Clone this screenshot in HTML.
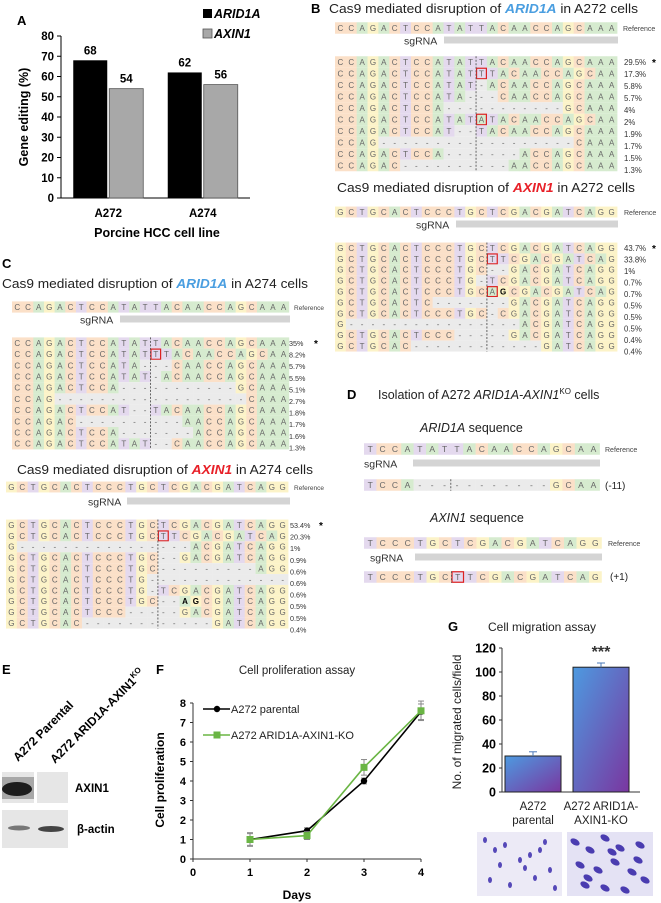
<!DOCTYPE html>
<html><head><meta charset="utf-8">
<style>
html,body{margin:0;padding:0;background:#fff;}
svg{display:block;font-family:"Liberation Sans",sans-serif;}
</style></head>
<body>
<svg id="fig" xmlns="http://www.w3.org/2000/svg" width="661" height="903" viewBox="0 0 661 903">
<defs>
<linearGradient id="barGrad" x1="0" y1="0" x2="1" y2="1">
<stop offset="0" stop-color="#4d9ae0"/><stop offset="1" stop-color="#7a36a0"/>
</linearGradient>
</defs>
<g id="panelA"></g>
<g id="panelSeq"></g>
<g id="panelE"></g>
<g id="panelF"></g>
<g id="panelG"></g>
</svg>
<script>
// ---- Panel A data ----
const aCategories = ["A272", "A274"];
const aArid1a = [68, 62];
const aAxin1 = [54, 56];
const aTicks = [0, 10, 20, 30, 40, 50, 60, 70, 80];
// ---- Panel F data ----
const fDays = [1, 2, 3, 4];
const fParental = [1.0, 1.45, 4.0, 7.55];
const fParentalErr = [0.35, 0.15, 0.15, 0.4];
const fKO = [1.0, 1.2, 4.7, 7.6];
const fKOErr = [0.3, 0.2, 0.4, 0.5];
const fYTicks = [0, 1, 2, 3, 4, 5, 6, 7, 8];
const fXTicks = [0, 1, 2, 3, 4];
// ---- Panel G data ----
const gCategories = [["A272", "parental"], ["A272 ARID1A-", "AXIN1-KO"]];
const gValues = [30, 104];
const gErr = [3.5, 3.5];
const gTicks = [0, 20, 40, 60, 80, 100, 120];

const NS = "http://www.w3.org/2000/svg";
function mk(parent, tag, attrs, text) {
  const e = document.createElementNS(NS, tag);
  for (const k in attrs) e.setAttribute(k, attrs[k]);
  if (text !== undefined) e.textContent = text;
  parent.appendChild(e);
  return e;
}

// ================= PANEL A =================
(function () {
  const g = document.getElementById("panelA");
  const x0 = 61, x1 = 250, yBase = 198, yTop = 36;
  const ys = v => yBase - (v / 80) * (yBase - yTop);
  let t = mk(g, "text", {x: 17, y: 25, "font-size": 13, "font-weight": "bold"}, "A");
  
  
  let ax = mk(g, "line", {x1: x0, y1: yTop, x2: x0, y2: yBase, stroke: "#000"});
  
  
  let bx = mk(g, "line", {x1: x0, y1: yBase, x2: x1, y2: yBase, stroke: "#000"});
  
  
  aTicks.forEach(v => {
    mk(g, "line", {x1: x0 - 4, y1: ys(v), x2: x0, y2: ys(v), stroke: "#000"});
    const tl = mk(g, "text", {x: x0 - 7, y: ys(v) + 4, "font-size": 11.5, "font-weight": "bold", "text-anchor": "end"}, v);
    
    
  });
  const groupW = (x1 - x0) / aCategories.length;
  aCategories.forEach((c, i) => {
    const cx = x0 + groupW * (i + 0.5);
    const bw = 34;
    const r1 = mk(g, "rect", {x: cx - bw - 1, y: ys(aArid1a[i]), width: bw, height: yBase - ys(aArid1a[i]), fill: "#000"});
    
    
    const r2 = mk(g, "rect", {x: cx + 1, y: ys(aAxin1[i]), width: bw, height: yBase - ys(aAxin1[i]), fill: "#a8a8a8", stroke: "#555", "stroke-width": 0.8});
    
    
    const v1 = mk(g, "text", {x: cx - bw / 2 - 1, y: ys(aArid1a[i]) - 6, "font-size": 11.5, "font-weight": "bold", "text-anchor": "middle"}, aArid1a[i]);
    
    
    const v2 = mk(g, "text", {x: cx + bw / 2 + 1, y: ys(aAxin1[i]) - 6, "font-size": 11.5, "font-weight": "bold", "text-anchor": "middle"}, aAxin1[i]);
    
    
    const cl = mk(g, "text", {x: cx, y: 217, "font-size": 11.5, "font-weight": "bold", "text-anchor": "middle"}, c);
    
    
  });
  let xt = mk(g, "text", {x: 157, y: 237, "font-size": 12.5, "font-weight": "bold", "text-anchor": "middle"}, "Porcine HCC cell line");
  
  
  let yt = mk(g, "text", {x: 0, y: 0, "font-size": 12.5, "font-weight": "bold", "text-anchor": "middle", transform: "translate(28,117) rotate(-90)"}, "Gene editing (%)");
  
  
  const l1 = mk(g, "rect", {x: 203, y: 9, width: 9, height: 9, fill: "#000"});
  
  
  const lt1 = mk(g, "text", {x: 214, y: 18, "font-size": 12.5, "font-weight": "bold", "font-style": "italic"}, "ARID1A");
  
  
  const l2 = mk(g, "rect", {x: 203, y: 29, width: 9, height: 9, fill: "#a8a8a8", stroke: "#555", "stroke-width": 0.8});
  
  
  const lt2 = mk(g, "text", {x: 214, y: 38, "font-size": 12.5, "font-weight": "bold", "font-style": "italic"}, "AXIN1");
  
  
})();

// ================= SEQUENCES =================
const COL = {A: "#d6ebcf", C: "#fbe0c8", G: "#fcf3c8", T: "#e4d9ee", "-": "#ebebeb"};
function parseSeq(s) {
  const out = [];
  for (let i = 0; i < s.length; i++) {
    const ch = s[i];
    if (ch === "[") { out.push({c: s[i + 1], box: true}); i += 2; }
    else if (ch === "{") { out.push({c: s[i + 1], bold: true}); i += 2; }
    else out.push({c: ch});
  }
  return out;
}
function seqRow(g, x, yc, cw, rh, s, fs) {
  const cells = parseSeq(s);
  cells.forEach((cell, i) => {
    mk(g, "rect", {x: x + i * cw, y: yc - rh / 2, width: cw + 0.3, height: rh, fill: COL[cell.c] || "#eee"});
  });
  cells.forEach((cell, i) => {
    const cx = x + (i + 0.5) * cw;
    mk(g, "text", {x: cx, y: yc + fs * 0.36, "font-size": fs, "text-anchor": "middle", fill: cell.bold ? "#000" : "#666", "font-weight": cell.bold ? "bold" : "normal"}, cell.c);
    if (cell.box) mk(g, "rect", {x: x + i * cw + 0.5, y: yc - rh / 2 + 0.5, width: cw - 1, height: rh - 1, fill: "none", stroke: "#d22", "stroke-width": 1.2});
  });
}
function seqBlock(opts) {
  const g = mk(document.getElementById("panelSeq"), "g", {});
  
  
  const {x, refY, cw, rh, fs} = opts;
  const ref = mk(g, "g", {});
  
  
  seqRow(ref, x, refY, cw, rh, opts.ref, fs);
  mk(g, "text", {x: opts.refLabelX, y: refY + 3, "font-size": opts.refFs || 7, fill: "#444"}, "Reference");
  const sl = mk(g, "text", {x: opts.sgLabelX, y: opts.sgY + 4.5, "font-size": opts.sgFs || 10.5, fill: "#333"}, "sgRNA");
  
  
  const sb = mk(g, "rect", {x: opts.sgX0, y: opts.sgY - 3.5, width: opts.sgX1 - opts.sgX0, height: 7, fill: "#d4d4d4"});
  
  
  opts.rows.forEach((r, i) => {
    const yc = opts.rowY + i * rh;
    const rg = mk(g, "g", {});
    
    
    seqRow(rg, x, yc, cw, rh, r, fs);
  });
  if (opts.labels) {
    opts.labels.forEach((lab, i) => {
      const yl = opts.rowY + i * (opts.labelStep || rh) + 3;
      mk(g, "text", {x: opts.labelX, y: yl, "font-size": opts.labFs || 7.8, fill: "#333"}, lab);
      if (i === 0 && opts.star) mk(g, "text", {x: opts.labelX + opts.star, y: yl + 1, "font-size": 10, "font-weight": "bold"}, "*");
    });
  }
  const top = opts.rowY - rh / 2, bot = opts.rowY + (opts.rows.length - 0.5) * rh;
  mk(g, "line", {x1: x + opts.cut * cw, y1: top, x2: x + opts.cut * cw, y2: bot, stroke: "#555", "stroke-width": 0.9, "stroke-dasharray": "2,1.5"});
  return g;
}
function title(x, y, w, parts, fs, name) {
  const t = mk(document.getElementById("panelSeq"), "text", {x: x, y: y, "font-size": fs, fill: "#222", textLength: w, lengthAdjust: "spacingAndGlyphs"});
  
  
  parts.forEach(p => { mk(t, "tspan", p.style || {}, p.t); });
  return t;
}
const BLUE = {fill: "#4a9ee0", "font-weight": "bold", "font-style": "italic"};
const RED = {fill: "#e82028", "font-weight": "bold", "font-style": "italic"};
const ARID_REF = "CCAGACTCCATATTACAACCAGCAAA";
const AXIN_REF = "GCTGCACTCCCTGCTCGACGATCAGG";

// B
(function () {
  const p = document.getElementById("panelSeq");
  const b = mk(p, "text", {x: 311, y: 13, "font-size": 13, "font-weight": "bold"}, "B");
  
  
  title(329, 13, 309, [{t: "Cas9 mediated disruption of "}, {t: "ARID1A", style: BLUE}, {t: " in A272 cells"}], 12.5, "panel-b-arid1a-title");
  seqBlock({name: "arid1a-a272-alignment", x: 335, refY: 28, cw: 10.85, rh: 11.5, fs: 8,
    ref: ARID_REF, refLabelX: 623, sgLabelX: 404, sgY: 40, sgX0: 444, sgX1: 618,
    rowY: 62, cut: 13, labelX: 624, labelStep: 12, star: 28,
    rows: [ARID_REF, "CCAGACTCCATAT[T]TACAACCAGCAA", "CCAGACTCCATAT-ACAACCAGCAAA", "CCAGACTCCATA---CAACCAGCAAA",
      "CCAGACTCCA-----------GCAAA", "CCAGACTCCATAT[A]TACAACCAGCAA", "CCAGACTCCAT--TACAACCAGCAAA",
      "CCAG------------------CAAA", "CCAGACTCCA-------ACCAGCAAA", "CCAGAC----------AACCAGCAAA"],
    labels: ["29.5%", "17.3%", "5.8%", "5.7%", "4%", "2%", "1.9%", "1.7%", "1.5%", "1.3%"]});
  title(337, 192, 298, [{t: "Cas9 mediated disruption of "}, {t: "AXIN1", style: RED}, {t: " in A272 cells"}], 12.5, "panel-b-axin1-title");
  seqBlock({name: "axin1-a272-alignment", x: 335, refY: 212, cw: 10.85, rh: 10.9, fs: 8,
    ref: AXIN_REF, refLabelX: 624, sgLabelX: 416, sgY: 224, sgX0: 456, sgX1: 618,
    rowY: 248, cut: 14, labelX: 624, labelStep: 11.5, star: 28,
    rows: [AXIN_REF, "GCTGCACTCCCTGC[T]TCGACGATCAG", "GCTGCACTCCCTGC--GACGATCAGG", "GCTGCACTCCCTG-TCGACGATCAGG",
      "GCTGCACTCCCTGC[A]{G}CGACGATCAG", "GCTGCACTC-------GACGATCAGG", "GCTGCACTCCCTGC-CGACGATCAGG",
      "G----------------ACGATCAGG", "GCTGCACTCCC-----GACGATCAGG", "GCTGCAC------------GATCAGG"],
    labels: ["43.7%", "33.8%", "1%", "0.7%", "0.7%", "0.5%", "0.5%", "0.5%", "0.4%", "0.4%"]});
})();

// C
(function () {
  const p = document.getElementById("panelSeq");
  const c = mk(p, "text", {x: 2, y: 268, "font-size": 13, "font-weight": "bold"}, "C");
  
  
  title(2, 288, 306, [{t: "Cas9 mediated disruption of "}, {t: "ARID1A", style: BLUE}, {t: " in A274 cells"}], 12.5, "panel-c-arid1a-title");
  seqBlock({name: "arid1a-a274-alignment", x: 12, refY: 307, cw: 10.65, rh: 11.2, fs: 8,
    ref: ARID_REF, refLabelX: 294, refFs: 6.5, sgLabelX: 80, sgY: 319, sgX0: 120, sgX1: 290,
    rowY: 343, cut: 13, labelX: 289, labelStep: 11.6, labFs: 7.2, star: 25,
    rows: [ARID_REF, "CCAGACTCCATAT[T]TACAACCAGCAA", "CCAGACTCCATA---CAACCAGCAAA", "CCAGACTCCATAT-ACAACCAGCAAA",
      "CCAGACTCCA-----------GCAAA", "CCAG------------------CAAA", "CCAGACTCCAT--TACAACCAGCAAA",
      "CCAGAC----------AACCAGCAAA", "CCAGACTCCA-------ACCAGCAAA", "CCAGACTCCATAT--CAACCAGCAAA"],
    labels: ["35%", "8.2%", "5.7%", "5.5%", "5.1%", "2.7%", "1.8%", "1.7%", "1.6%", "1.3%"]});
  title(17, 474, 296, [{t: "Cas9 mediated disruption of "}, {t: "AXIN1", style: RED}, {t: " in A274 cells"}], 12.5, "panel-c-axin1-title");
  seqBlock({name: "axin1-a274-alignment", x: 6, refY: 487, cw: 10.85, rh: 10.9, fs: 8,
    ref: AXIN_REF, refLabelX: 294, refFs: 6.5, sgLabelX: 88, sgY: 501, sgX0: 127, sgX1: 290,
    rowY: 525, cut: 14, labelX: 290, labelStep: 11.6, labFs: 7.2, star: 29,
    rows: [AXIN_REF, "GCTGCACTCCCTGC[T]TCGACGATCAG", "G----------------ACGATCAGG", "GCTGCACTCCCTGC--GACGATCAGG",
      "GCTGCACTCCCTGC---------AGG", "GCTGCACTCCCTG-------------", "GCTGCACTCCCTG-TCGACGATCAGG",
      "GCTGCACTCCCTGC--{A}{G}CGATCAGG", "GCTGCACTCCC-----GACGATCAGG", "GCTGCAC------------GATCAGG"],
    labels: ["53.4%", "20.3%", "1%", "0.9%", "0.6%", "0.6%", "0.6%", "0.5%", "0.5%", "0.4%"]});
})();

// D
(function () {
  const p = document.getElementById("panelSeq");
  const d = mk(p, "text", {x: 347, y: 399, "font-size": 13, "font-weight": "bold"}, "D");
  
  
  const t = mk(p, "text", {x: 378, y: 399, "font-size": 12.5, fill: "#222"});
  
  
  mk(t, "tspan", {}, "Isolation of A272 ");
  mk(t, "tspan", {"font-style": "italic"}, "ARID1A-AXIN1");
  mk(t, "tspan", {"font-size": 8, dy: -5}, "KO");
  mk(t, "tspan", {dy: 5}, " cells");
  const s1 = mk(p, "text", {x: 420, y: 432, "font-size": 12.5, fill: "#222"});
  
  
  mk(s1, "tspan", {"font-style": "italic"}, "ARID1A");
  mk(s1, "tspan", {}, " sequence");
  const blk1 = seqBlock({name: "ko-arid1a-sequence", x: 364, refY: 449, cw: 12.4, rh: 11.5, fs: 8.5,
    ref: "TCCATATTACAACCAGCAA", refLabelX: 605, sgLabelX: 364, sgY: 463, sgX0: 413, sgX1: 600,
    rowY: 485, cut: 7, rows: ["TCCA-----------GCAA"]});
  mk(blk1, "text", {x: 605, y: 489, "font-size": 10, fill: "#222"}, "(-11)");
  const s2 = mk(p, "text", {x: 430, y: 522, "font-size": 12.5, fill: "#222"});
  
  
  mk(s2, "tspan", {"font-style": "italic"}, "AXIN1");
  mk(s2, "tspan", {}, " sequence");
  const blk2 = seqBlock({name: "ko-axin1-sequence", x: 364, refY: 543, cw: 12.5, rh: 11.5, fs: 8.5,
    ref: "TCCCTGCTCGACGATCAGG", refLabelX: 608, sgLabelX: 370, sgY: 557, sgX0: 415, sgX1: 602,
    rowY: 577, cut: 7, rows: ["TCCCTGC[T]TCGACGATCAG"]});
  mk(blk2, "text", {x: 610, y: 580, "font-size": 10, fill: "#222"}, "(+1)");
})();

// ================= PANEL E =================
(function () {
  const g = document.getElementById("panelE");
  const e = mk(g, "text", {x: 2, y: 674, "font-size": 13, "font-weight": "bold"}, "E");
  
  
  const l1 = mk(g, "text", {x: 0, y: 0, "font-size": 12, "font-weight": "bold", transform: "translate(18,762) rotate(-45)"}, "A272 Parental");
  
  
  const l2 = mk(g, "text", {x: 0, y: 0, "font-size": 12, "font-weight": "bold", transform: "translate(55,764) rotate(-45)"});
  
  
  mk(l2, "tspan", {}, "A272 ARID1A-AXIN1");
  mk(l2, "tspan", {"font-size": 8, dy: -5}, "KO");
  const b1 = mk(g, "rect", {x: 2, y: 772, width: 66, height: 31, fill: "#e6e6e6"});
  
  
  mk(g, "rect", {x: 34, y: 772, width: 3, height: 31, fill: "#fff"});
  mk(g, "ellipse", {cx: 17, cy: 789, rx: 15, ry: 7, fill: "#111"});
  mk(g, "rect", {x: 2, y: 777, width: 32, height: 22, fill: "#333", opacity: 0.35});
  const b2 = mk(g, "rect", {x: 2, y: 810, width: 66, height: 38, fill: "#e6e6e6"});
  
  
  mk(g, "ellipse", {cx: 19, cy: 828, rx: 11, ry: 2.5, fill: "#777"});
  mk(g, "ellipse", {cx: 51, cy: 829, rx: 13, ry: 3, fill: "#444"});
  const t1 = mk(g, "text", {x: 75, y: 792, "font-size": 11.5, "font-weight": "bold"}, "AXIN1");
  
  
  const t2 = mk(g, "text", {x: 77, y: 833, "font-size": 11.5, "font-weight": "bold"}, "β-actin");
  
  
})();

// ================= PANEL F =================
(function () {
  const g = document.getElementById("panelF");
  const xs = d => 193 + d * 57;
  const ys = v => 859 - v * 19.5;
  const f = mk(g, "text", {x: 156, y: 674, "font-size": 13, "font-weight": "bold"}, "F");
  
  
  const tt = mk(g, "text", {x: 297, y: 674, "font-size": 11.5, "text-anchor": "middle", fill: "#222"}, "Cell proliferation assay");
  
  
  mk(g, "line", {x1: xs(0), y1: ys(8), x2: xs(0), y2: ys(0), stroke: "#333"});
  mk(g, "line", {x1: xs(0), y1: ys(0), x2: xs(4), y2: ys(0), stroke: "#333"});
  fYTicks.forEach(v => {
    mk(g, "line", {x1: xs(0) - 3, y1: ys(v), x2: xs(0), y2: ys(v), stroke: "#333"});
    const t = mk(g, "text", {x: xs(0) - 7, y: ys(v) + 4, "font-size": 11, "font-weight": "bold", "text-anchor": "end"}, v);
    
    
  });
  fXTicks.forEach(v => {
    mk(g, "line", {x1: xs(v), y1: ys(0), x2: xs(v), y2: ys(0) + 3, stroke: "#333"});
    const t = mk(g, "text", {x: xs(v), y: ys(0) + 17, "font-size": 11, "font-weight": "bold", "text-anchor": "middle"}, v);
    
    
  });
  const xl = mk(g, "text", {x: 297, y: 899, "font-size": 12, "font-weight": "bold", "text-anchor": "middle"}, "Days");
  
  
  const yl = mk(g, "text", {x: 0, y: 0, "font-size": 12, "font-weight": "bold", "text-anchor": "middle", transform: "translate(164,780) rotate(-90)"}, "Cell proliferation");
  
  
  function series(vals, errs, color, shape, name) {
    const sg = mk(g, "g", {});
    
    
    vals.forEach((v, i) => {
      const x = xs(fDays[i]);
      mk(sg, "line", {x1: x, y1: ys(v - errs[i]), x2: x, y2: ys(v + errs[i]), stroke: "#888"});
      mk(sg, "line", {x1: x - 3, y1: ys(v - errs[i]), x2: x + 3, y2: ys(v - errs[i]), stroke: "#888"});
      mk(sg, "line", {x1: x - 3, y1: ys(v + errs[i]), x2: x + 3, y2: ys(v + errs[i]), stroke: "#888"});
    });
    mk(sg, "polyline", {points: vals.map((v, i) => xs(fDays[i]) + "," + ys(v)).join(" "), fill: "none", stroke: color, "stroke-width": 1.6});
    vals.forEach((v, i) => {
      const x = xs(fDays[i]);
      const m = shape === "c" ? mk(sg, "circle", {cx: x, cy: ys(v), r: 3.2, fill: color})
                              : mk(sg, "rect", {x: x - 3.5, y: ys(v) - 3.5, width: 7, height: 7, fill: color});
      
      
    });
  }
  series(fParental, fParentalErr, "#000", "c", "series-parental");
  series(fKO, fKOErr, "#6ab544", "s", "series-ko");
  const lg = mk(g, "g", {});
  
  
  mk(lg, "line", {x1: 203, y1: 709, x2: 230, y2: 709, stroke: "#000", "stroke-width": 1.6});
  mk(lg, "circle", {cx: 217, cy: 709, r: 3.2, fill: "#000"});
  mk(lg, "text", {x: 231, y: 713, "font-size": 11, fill: "#222"}, "A272 parental");
  mk(lg, "line", {x1: 203, y1: 735, x2: 230, y2: 735, stroke: "#6ab544", "stroke-width": 1.6});
  mk(lg, "rect", {x: 213.5, y: 731.5, width: 7, height: 7, fill: "#6ab544"});
  mk(lg, "text", {x: 231, y: 739, "font-size": 11, fill: "#222"}, "A272 ARID1A-AXIN1-KO");
})();

// ================= PANEL G =================
(function () {
  const g = document.getElementById("panelG");
  const ys = v => 792 - v * 1.2;
  const x0 = 502;
  const gl = mk(g, "text", {x: 453, y: 631, "font-size": 13, "font-weight": "bold", "text-anchor": "middle"}, "G");
  
  
  const tt = mk(g, "text", {x: 488, y: 631, "font-size": 12, fill: "#222"}, "Cell migration assay");
  
  
  mk(g, "line", {x1: x0, y1: ys(120), x2: x0, y2: ys(0), stroke: "#333"});
  mk(g, "line", {x1: x0, y1: ys(0), x2: 640, y2: ys(0), stroke: "#333"});
  gTicks.forEach(v => {
    mk(g, "line", {x1: x0 - 3, y1: ys(v), x2: x0, y2: ys(v), stroke: "#333"});
    const t = mk(g, "text", {x: x0 - 6, y: ys(v) + 4.5, "font-size": 12.5, "font-weight": "bold", "text-anchor": "end"}, v);
    
    
  });
  const yl = mk(g, "text", {x: 0, y: 0, "font-size": 12, "text-anchor": "middle", fill: "#222", transform: "translate(461,722) rotate(-90)"}, "No. of migrated cells/field");
  
  
  const bw = 56, gap = 68;
  gValues.forEach((v, i) => {
    const cx = 533 + i * gap;
    const r = mk(g, "rect", {x: cx - bw / 2, y: ys(v), width: bw, height: ys(0) - ys(v), fill: "url(#barGrad)", stroke: "#222", "stroke-width": 1});
    
    
    mk(g, "line", {x1: cx, y1: ys(v), x2: cx, y2: ys(v + gErr[i]), stroke: "#4a78b8", "stroke-width": 1});
    mk(g, "line", {x1: cx - 4, y1: ys(v + gErr[i]), x2: cx + 4, y2: ys(v + gErr[i]), stroke: "#4a78b8", "stroke-width": 1});
    gCategories[i].forEach((ln, j) => {
      const t = mk(g, "text", {x: cx, y: 810 + j * 14, "font-size": 11.5, "text-anchor": "middle", fill: "#222"}, ln);
      
      
    });
  });
  const st = mk(g, "text", {x: 601, y: 657, "font-size": 16, "font-weight": "bold", "text-anchor": "middle", fill: "#333"}, "***");
  
  
  const im1 = mk(g, "rect", {x: 477, y: 832, width: 85, height: 64, fill: "#eceaf6"});
  
  
  const im2 = mk(g, "rect", {x: 567, y: 832, width: 86, height: 64, fill: "#e4e2f4"});
  
  
  const dots1 = [[485,840],[495,850],[505,845],[520,860],[530,855],[545,842],[550,870],[490,880],[510,885],[535,878],[555,888],[525,868],[500,865],[540,850]];
  dots1.forEach(d => mk(g, "ellipse", {cx: d[0], cy: d[1], rx: 2, ry: 3, fill: "#5548b8"}));
  const dots2 = [[575,842],[590,850],[605,838],[620,848],[640,845],[580,865],[598,870],[615,862],[632,872],[645,880],[585,885],[605,888],[625,890],[612,852],[588,878],[638,860]];
  dots2.forEach(d => mk(g, "ellipse", {cx: d[0], cy: d[1], rx: 5, ry: 3, fill: "#4a3cb0", transform: "rotate(30 " + d[0] + " " + d[1] + ")"}));
})();
</script>
</body></html>
